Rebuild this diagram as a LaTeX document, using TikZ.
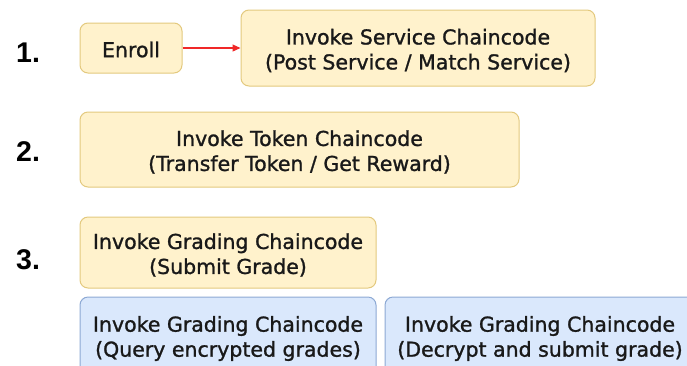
\documentclass[tikz,border=0pt]{standalone}
\usepackage{fontspec}
\setmainfont{DejaVu Sans}[FakeBold=1.2]
\newfontfamily\boxfont{DejaVu Sans}[FakeBold=1.2]
\newfontfamily\numfont{Liberation Sans}
\usetikzlibrary{arrows.meta}
\definecolor{yfill}{HTML}{FFF2CC}
\definecolor{ydraw}{HTML}{E3C97E}
\definecolor{bfill}{HTML}{DAE8FC}
\definecolor{bdraw}{HTML}{8DA9D4}
\definecolor{arrowred}{HTML}{F02828}
\begin{document}
\begin{tikzpicture}[x=1pt,y=-1pt,
  box/.style={rounded corners=8pt, line width=1pt, inner sep=0pt},
  ybox/.style={box, fill=yfill, draw=ydraw},
  bbox/.style={box, fill=bfill, draw=bdraw},
  txt/.style={inner sep=0pt, align=center, text=black!90,
    font=\boxfont\fontsize{20.5}{25}\selectfont},
  num/.style={font=\numfont\bfseries\fontsize{28.5}{28.5}\selectfont, anchor=base west, inner sep=0pt}]
\useasboundingbox (0,0) rectangle (687,365);
\clip (0,0) rectangle (687,365);
\node[num] (n1) at (16,62) {1.};
\node[num] (n2) at (16,161) {2.};
\node[num] (n3) at (16,269) {3.};
\node[ybox, minimum width=102pt, minimum height=50pt] (enroll) at (131,48) {};
\node[txt] (enrollT) at ([yshift=-1.5pt]enroll.center) {Enroll};
\node[ybox, minimum width=354pt, minimum height=76pt] (service) at (418,48) {};
\node[txt] (serviceT) at ([yshift=-2.5pt]service.center)
  {Invoke Service Chaincode\\(Post Service / Match Service)};
\node[ybox, minimum width=439pt, minimum height=75pt] (token) at (299.5,149.5) {};
\node[txt] (tokenT) at ([yshift=-2.5pt]token.center)
  {Invoke Token Chaincode\\(Transfer Token / Get Reward)};
\node[ybox, minimum width=296pt, minimum height=71pt] (grade) at (228,252.5) {};
\node[txt] (gradeT) at ([yshift=-2.5pt]grade.center)
  {Invoke Grading Chaincode\\(Submit Grade)};
\node[bbox, minimum width=296pt, minimum height=78pt] (query) at (228,336) {};
\node[txt] (queryT) at ([yshift=-2.5pt]query.center)
  {Invoke Grading Chaincode\\(Query encrypted grades)};
\node[bbox, minimum width=310pt, minimum height=78pt] (decrypt) at (540,336) {};
\node[txt] (decryptT) at ([yshift=-2.5pt]decrypt.center)
  {Invoke Grading Chaincode\\(Decrypt and submit grade)};
\draw[arrowred, line width=1.2pt, -{Triangle[length=8pt,width=7pt]}] (enroll) -- (service);
\end{tikzpicture}
\end{document}
